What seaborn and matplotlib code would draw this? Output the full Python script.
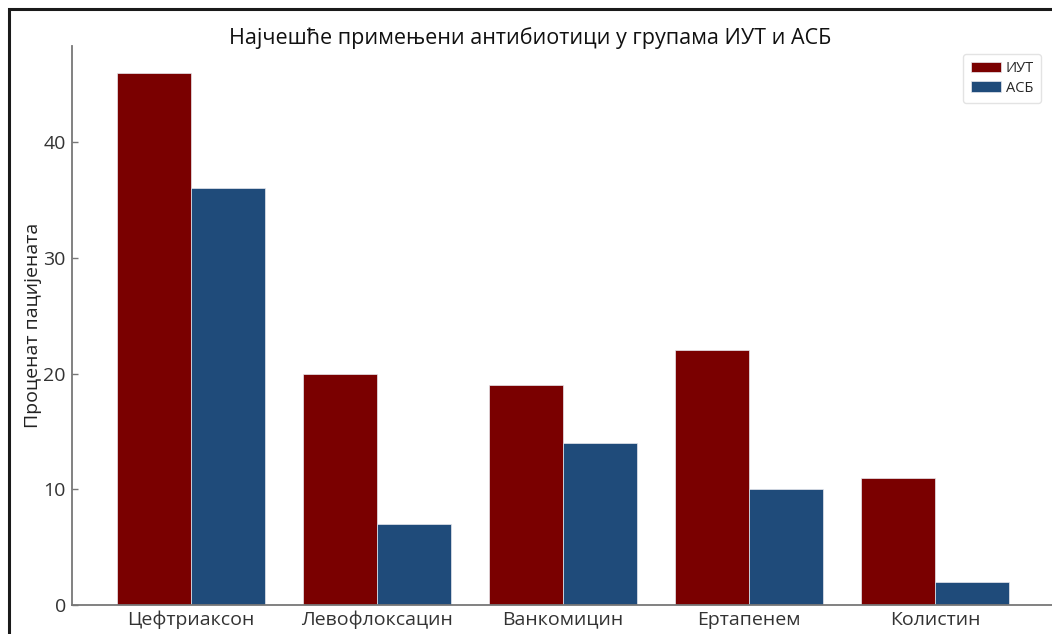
import pandas as pd
import numpy as np
import matplotlib
matplotlib.use('Agg')
import matplotlib.pyplot as plt
import seaborn as sns
from matplotlib.patches import Rectangle

# data
antibiotics = ['Цефтриаксон', 'Левофлоксацин', 'Ванкомицин', 'Ертапенем', 'Колистин']
groups = ['ИУТ', 'АСБ']
iut_values = [46, 20, 19, 22, 11]
asb_values = [36, 7, 14, 10, 2]
y_ticks = [0, 10, 20, 30, 40]

df = pd.DataFrame({
    'antibiotic': antibiotics * 2,
    'group': [groups[0]] * len(antibiotics) + [groups[1]] * len(antibiotics),
    'percent': iut_values + asb_values,
})

sns.set_style('white')
plt.rcParams['font.family'] = ['Open Sans', 'DejaVu Sans']

fig = plt.figure(figsize=(10.52, 6.34), dpi=100)
ax = fig.add_axes([72 / 1052, 1 - 605 / 634, 982 / 1052, 559 / 634])

sns.barplot(data=df, x='antibiotic', y='percent', hue='group',
            palette=['#7a0000', '#1f4b7a'], saturation=1, width=0.8,
            edgecolor='#e8e8ee', linewidth=0.5, ax=ax)

ax.set_xlim(-0.64, 4.64)
ax.set_ylim(0, 48.3)
ax.set_yticks(y_ticks)
ax.set_xlabel('')
ax.set_ylabel('Проценат пацијената', fontsize=14, color='#222222')
ax.yaxis.set_label_coords(-0.031, 0.5)
ax.tick_params(axis='x', length=0, labelsize=14, labelcolor='#333333', pad=4)
ax.tick_params(axis='y', direction='in', length=4, width=1, color='#777777',
               labelsize=14, labelcolor='#333333', left=True, pad=4.5)
for s in ['top', 'right']:
    ax.spines[s].set_visible(False)
for s in ['left', 'bottom']:
    ax.spines[s].set_color('#777777')
    ax.spines[s].set_linewidth(1.3)

leg = ax.legend(loc='upper right', bbox_to_anchor=(0.9868, 0.9857), borderaxespad=0,
                fontsize=10.5, frameon=True, handlelength=2.05, handleheight=0.7,
                borderpad=0.5, labelspacing=0.3, handletextpad=0.35)
leg.get_frame().set_edgecolor('#dddddd')
leg.get_frame().set_linewidth(1)

fig.text(530 / 1052, 1 - 38 / 634, 'Најчешће примењени антибиотици у групама ИУТ и АСБ',
         ha='center', va='center', fontsize=15.5, color='#111111')

# outer frame of the cropped screenshot
fig.patches.append(Rectangle((8.5 / 1052, -0.1), 1.2, 1.1 - 9.5 / 634,
                             transform=fig.transFigure, fill=False,
                             edgecolor='#1a1a1a', linewidth=2.2, zorder=10))

fig.savefig('out.png', dpi=100)
